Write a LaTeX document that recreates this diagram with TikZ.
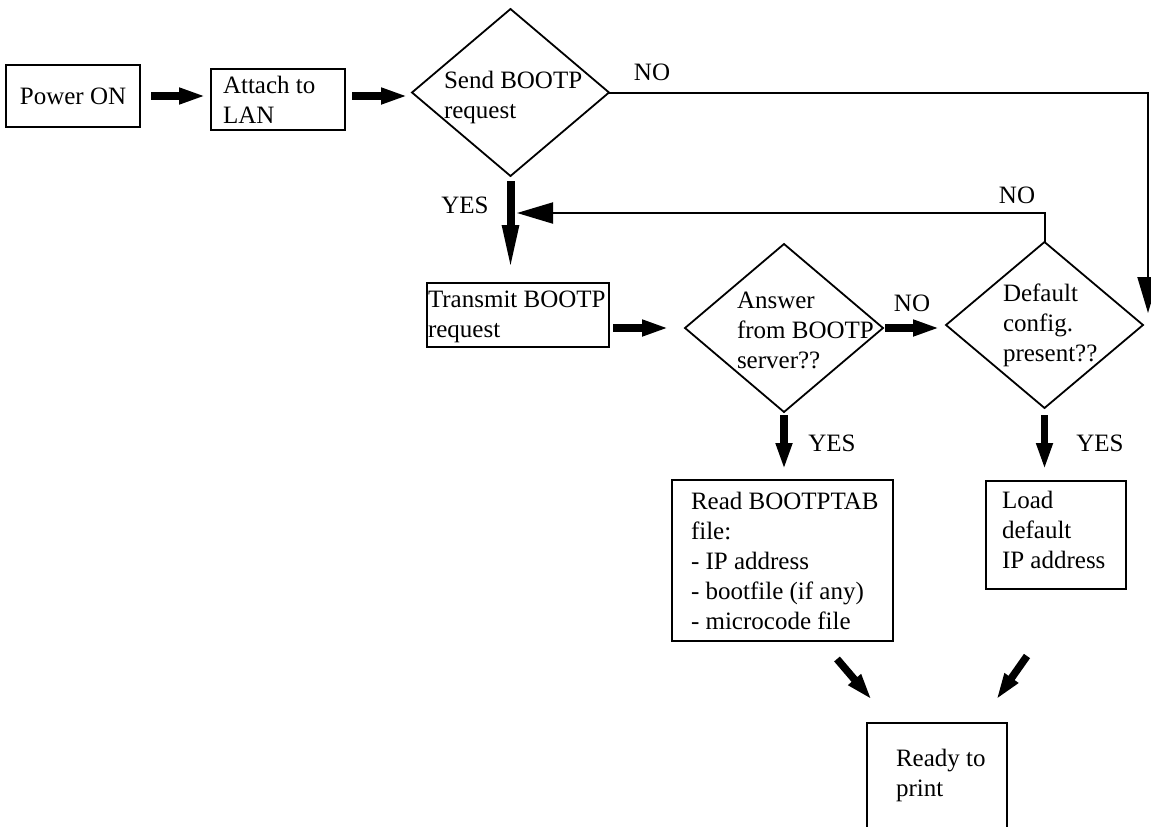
\documentclass[tikz,border=0pt]{standalone}
\usepackage{fontspec}
\setmainfont{Liberation Serif}
\usetikzlibrary{shapes.geometric,arrows.meta,calc}
\begin{document}
\begin{tikzpicture}[x=1pt,y=-1pt,
  font=\fontsize{25}{30}\selectfont,
  box/.style={draw, line width=2pt, inner sep=0pt, outer sep=0pt},
  dia/.style={draw, diamond, line width=1.8pt, inner sep=0pt, outer sep=0pt},
  txt/.style={inner sep=0pt, outer sep=0pt, align=left, anchor=north west},
  lbl/.style={inner sep=0pt},
  fat/.style={line width=7.5pt, -{Triangle[length=27pt,width=15pt]}},
  fatlong/.style={line width=8pt, -{Triangle[length=47pt,width=15pt]}},
  thinarrow/.style={line width=2pt, -{Triangle[length=36pt,width=21pt]}}]
\clip (0,0) rectangle (1151,827);
\fill[white] (0,0) rectangle (1151,827);

% boxes
\node[box, minimum width=134pt, minimum height=62pt] (power) at (73,96) {Power ON};
\node[box, minimum width=134pt, minimum height=61pt] (attach) at (278,99.5) {};
\node[txt] (attacht) at (223,76) {Attach to\\LAN};
\node[box, minimum width=182pt, minimum height=64pt] (transmit) at (518,315) {};
\node[txt] (transmitt) at (428,291) {Transmit BOOTP\\request};
\node[box, minimum width=221pt, minimum height=161pt] (read) at (782.5,560.5) {};
\node[txt] (readt) at (691,492) {Read BOOTPTAB\\file:\\- IP address\\- bootfile (if any)\\- microcode file};
\node[box, minimum width=140pt, minimum height=108pt] (load) at (1056,535) {};
\node[txt] (loadt) at (1002,491) {Load\\default\\IP address};
\node[box, minimum width=140pt, minimum height=137pt] (ready) at (937,791.5) {};
\node[txt] (readyt) at (896,749) {Ready to\\print};

% diamonds
\node[dia, minimum width=197pt, minimum height=167pt] (send) at (510.5,92.5) {};
\node[txt] (sendt) at (444,71) {Send BOOTP\\request};
\node[dia, minimum width=198pt, minimum height=168pt] (answer) at (784,328) {};
\node[txt] (answert) at (737,292) {Answer\\from BOOTP\\server??};
\node[dia, minimum width=197pt, minimum height=166pt] (default) at (1044.5,325) {};
\node[txt] (defaultt) at (1003,284) {Default\\config.\\present??};

% labels
\node[lbl] (no1) at (652,72) {NO};
\node[lbl] (yes1) at (465,205) {YES};
\node[lbl] (no2) at (1017,195) {NO};
\node[lbl] (no3) at (912,303) {NO};
\node[lbl] (yes2) at (832,443) {YES};
\node[lbl] (yes3) at (1100,443) {YES};

% free ends
\coordinate (tipR) at (1148,313);
\coordinate (tipL) at (517,213);
\coordinate (d1s) at (837,659);
\coordinate (d1e) at (872,700);
\coordinate (d2s) at (1027,656);
\coordinate (d2e) at (996,700);

% fat arrows
\draw[fat, shorten <=11pt, shorten >=5pt] (power.east) -- (power.east -| attach.west);
\draw[fat, shorten <=7pt, shorten >=4pt] ([yshift=3.5pt]attach.east) -- ([yshift=3.5pt]attach.east -| send.west);
\draw[fat, shorten <=4pt, shorten >=16pt] (transmit.east |- answer.west) -- (answer.west);
\draw[fat, shorten <=2pt, shorten >=6pt] (answer.east) -- (answer.east -| default.west);
\draw[fatlong, shorten <=5pt, shorten >=11pt] (send.south) -- (send.south |- transmit.north);
\draw[fat, shorten <=3pt, shorten >=10pt] (answer.south) -- (answer.south |- read.north);
\draw[fat, shorten <=7pt, shorten >=11pt] (default.south) -- (default.south |- load.north);
\draw[fat] (d1s) -- (d1e);
\draw[fat] (d2s) -- (d2e);

% thin connectors
\draw[thinarrow] (send.east) -- (send.east -| tipR) -- (tipR);
\draw[thinarrow] (default.north) -- (default.north |- tipL) -- (tipL);
\end{tikzpicture}
\end{document}
